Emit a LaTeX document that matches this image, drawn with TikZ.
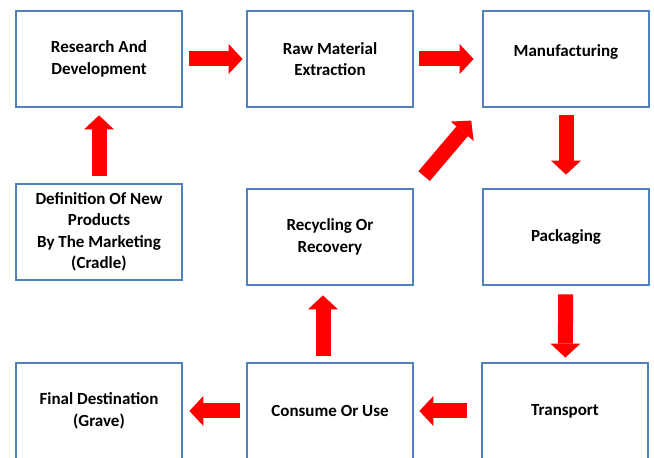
\documentclass[tikz,border=0pt]{standalone}
\usepackage{fontspec}
\setmainfont{Carlito}
\usetikzlibrary{arrows.meta}
\definecolor{boxblue}{RGB}{79,129,189}
\tikzset{
  stage/.style={draw=boxblue, line width=2.8pt, fill=white, minimum width=166pt,
    minimum height=96pt, align=center, font=\fontsize{17}{21.5}\selectfont\bfseries},
  flow/.style={draw=red, line width=15pt, -{Triangle[width=30pt,length=14pt,line width=0pt]}},
}

\begin{document}
\begin{tikzpicture}[x=1pt,y=1pt]
  \useasboundingbox (0,0) rectangle (654,458);

  % top row
  \node[stage] (research) at (99,399) {Research And\\Development};
  \node[stage] (raw) at (330,399) {Raw Material\\Extraction};
  \node[stage] (manuf) at (566,399) {Manufacturing\\[-5pt]};

  % middle row
  \node[stage] (definition) at (99,226) {Definition Of New\\Products\\By The Marketing\\(Cradle)};
  \node[stage] (recycling) at (330,221) {Recycling Or\\Recovery};
  \node[stage] (packaging) at (566,221) {Packaging};

  % bottom row, cut by the page edge
  \node[stage] (final) at (99,47) {Final Destination\\(Grave)};
  \node[stage] (consume) at (330,47) {Consume Or Use};
  \node[stage] (transport) at (565,47) {Transport};

  % flow of the life cycle
  \draw[flow, shorten <=6pt, shorten >=3pt] (research) -- (raw);
  \draw[flow, shorten <=5pt, shorten >=8pt] (raw) -- (manuf);
  \draw[flow, shorten <=7pt, shorten >=7pt] (definition) -- (research);
  \draw[flow, shorten <=7pt, shorten >=13pt] (manuf) -- (packaging);
  \draw[flow, shorten <=8pt, shorten >=4pt] (packaging) -- (transport);
  \draw[flow, shorten <=14pt, shorten >=5pt] (transport) -- (consume);
  \draw[flow, shorten <=6pt, shorten >=6pt] (consume) -- (final);
  \draw[flow, shorten <=6pt, shorten >=9pt] ([xshift=-7pt]consume.north) -- ([xshift=-7pt]recycling.south);
  \draw[flow, shorten <=15pt, shorten >=16pt] (recycling.north east) -- (manuf.south west);
\end{tikzpicture}
\end{document}
